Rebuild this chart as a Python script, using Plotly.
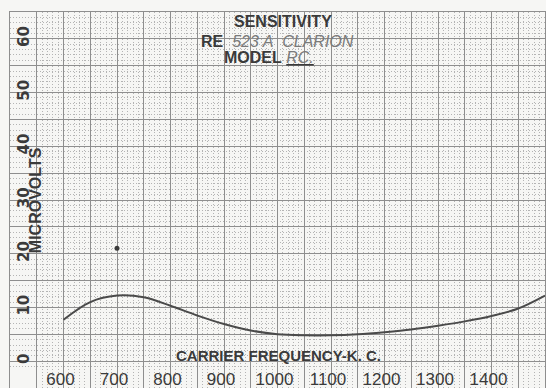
import plotly.graph_objects as go

# Receiver sensitivity, microvolts vs carrier frequency (kc)
freq_kc = [600, 650, 700, 750, 800, 850, 900, 950, 1000, 1050, 1100,
           1150, 1200, 1250, 1300, 1350, 1400, 1450, 1500]
microvolts = [7.7, 11.0, 12.2, 11.9, 10.3, 8.5, 6.9, 5.7, 5.0, 4.8, 4.8,
              5.0, 5.4, 5.9, 6.6, 7.4, 8.4, 9.8, 12.2]

# isolated check point plotted at 700 kc
spot_kc = [700]
spot_uv = [21]

x_ticks = list(range(500, 1501, 50))
x_labels = [str(v) if v % 100 == 0 and 600 <= v <= 1400 else "" for v in x_ticks]
y_ticks = list(range(-5, 66, 5))
y_labels = [str(v) if v % 10 == 0 and 0 <= v <= 60 else "" for v in y_ticks]

ink = "#3a3a3a"
soft = "#7a7a7a"
sans = "Liberation Sans, Arial, sans-serif"
wide = "DejaVu Sans, Liberation Sans, sans-serif"

fig = go.Figure()
fig.add_trace(go.Scatter(
    x=freq_kc, y=microvolts, mode="lines",
    line=dict(color="#4a4a4a", width=2, shape="spline", smoothing=1.0),
    hoverinfo="skip", showlegend=False,
))
fig.add_trace(go.Scatter(
    x=spot_kc, y=spot_uv, mode="markers",
    marker=dict(color="#3a3a3a", size=5, symbol="circle"),
    hoverinfo="skip", showlegend=False,
))

grid_major = "#8e8e8e"
grid_minor = "#b4b4b4"

fig.update_xaxes(
    range=[500, 1500], tickvals=x_ticks, ticktext=x_labels,
    showgrid=True, gridcolor=grid_major, gridwidth=1,
    minor=dict(dtick=10, showgrid=True, gridcolor=grid_minor,
               griddash="1px,2px", gridwidth=1),
    ticks="", ticklabelposition="inside", ticklabelstandoff=0,
    ticklabelshift=-3,
    tickfont=dict(family=sans, size=17, color=ink),
    showline=True, linecolor=grid_major, mirror=True, zeroline=False,
)
fig.update_yaxes(
    range=[-5, 65], tickvals=y_ticks, ticktext=y_labels,
    showgrid=True, gridcolor=grid_major, gridwidth=1,
    minor=dict(dtick=1, showgrid=True, gridcolor=grid_minor,
               griddash="1px,2px", gridwidth=1),
    ticks="", ticklabelposition="inside", tickangle=-90,
    ticklabelstandoff=1,
    tickfont=dict(family=wide, size=15, color=ink, weight="bold"),
    showline=True, linecolor=grid_major, mirror=True, zeroline=False,
)

annos = [
    dict(x=915, y=63.2, xanchor="left", yanchor="middle",
         text="<b>SENSITIVITY</b>",
         font=dict(family=sans, size=16, color=ink)),
    dict(x=853, y=59.6, xanchor="left", yanchor="middle",
         text="<b>RE</b>&nbsp; <i><span style='color:%s'>523 A&nbsp; CLARION</span></i>" % soft,
         font=dict(family=sans, size=16, color=ink)),
    dict(x=896, y=56.5, xanchor="left", yanchor="middle",
         text="<b>MODEL</b> <i><u><span style='color:%s'>RC.</span></u></i>" % soft,
         font=dict(family=sans, size=16, color=ink)),
    dict(x=547, y=30, xanchor="center", yanchor="middle", textangle=-90,
         text="<b>MICROVOLTS</b>",
         font=dict(family=sans, size=16, color=ink)),
    dict(x=1001, y=1.0, xanchor="center", yanchor="middle",
         text="<b>CARRIER FREQUENCY-K. C.</b>",
         font=dict(family=sans, size=15, color=ink)),
]
for a in annos:
    a.update(xref="x", yref="y", showarrow=False)
fig.update_layout(
    width=546, height=388,
    margin=dict(l=10, r=1, t=12, b=0),
    paper_bgcolor="#f6f6f4", plot_bgcolor="#f6f6f4",
    annotations=annos,
)

fig.write_html("out.html")
